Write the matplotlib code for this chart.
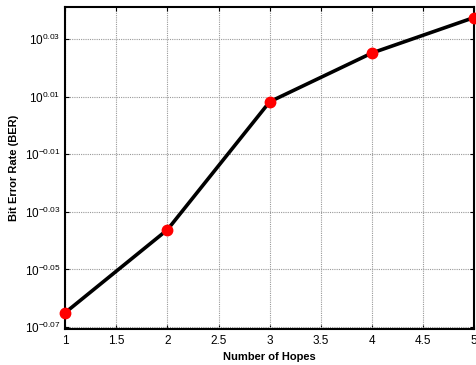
import numpy as np
import matplotlib
matplotlib.use('Agg')
import matplotlib.pyplot as plt
from matplotlib.ticker import FixedLocator, FuncFormatter

plt.rcParams['font.family'] = ['Liberation Sans', 'DejaVu Sans']
plt.rcParams['mathtext.fontset'] = 'custom'
plt.rcParams['mathtext.rm'] = 'Liberation Sans'
plt.rcParams['mathtext.default'] = 'regular'

# data
hops = [1, 2, 3, 4, 5]
ber = [0.861, 0.920, 1.019, 1.0595, 1.090]
y_exps = [-0.07, -0.05, -0.03, -0.01, 0.01, 0.03]
x_ticks = [1, 1.5, 2, 2.5, 3, 3.5, 4, 4.5, 5]

fig = plt.figure(figsize=(4.76, 3.65), dpi=100)
ax = fig.add_axes([0.137, 0.1, 0.859, 0.881])

ax.plot(hops, ber, color='black', linewidth=2.6, zorder=3)
ax.plot(hops, ber, 'o', color='red', markersize=7.5, zorder=4, clip_on=False)

ax.set_yscale('log')
ax.set_xlim(1, 5)
ax.set_ylim(10 ** -0.0705, 10 ** 0.0411)
ax.yaxis.set_major_locator(FixedLocator([10 ** e for e in y_exps]))
ax.yaxis.set_minor_locator(FixedLocator([]))
ax.yaxis.set_major_formatter(FuncFormatter(lambda v, p: '$10^{%.2f}$' % np.log10(v)))
ax.set_xticks(x_ticks)
ax.set_xticklabels(['%g' % t for t in x_ticks])

ax.grid(True, which='major', color='#999999', linestyle=(0, (1, 1)), linewidth=0.8)
ax.tick_params(direction='in', length=3, top=True, right=True, labelsize=8.5, width=0.8)
ax.tick_params(axis='x', pad=5)
for s in ax.spines.values():
    s.set_linewidth(1.5)

ax.set_xlabel('Number of Hopes', fontsize=8, fontweight='bold', labelpad=3)
ax.set_ylabel('Bit Error Rate (BER)', fontsize=8, fontweight='bold', labelpad=4)

fig.savefig('out.png', dpi=100)
